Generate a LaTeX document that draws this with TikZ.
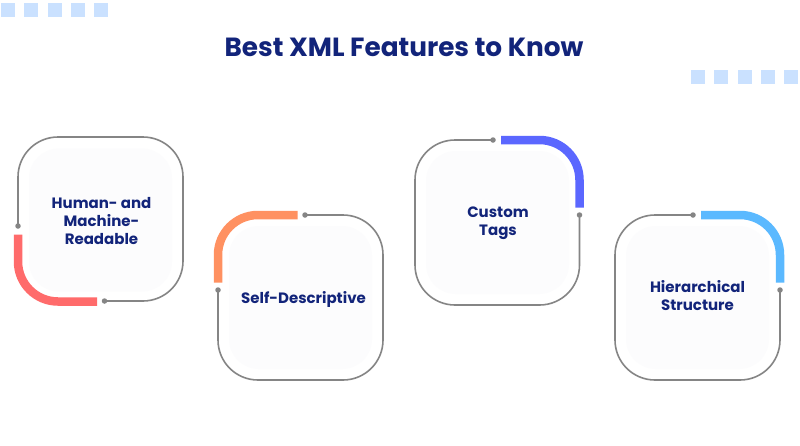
\documentclass[tikz,border=0pt]{standalone}
\usepackage{fontspec}
\setmainfont{Poppins}
\definecolor{navy}{HTML}{12247A}
\definecolor{sq}{HTML}{CAE1FF}
\definecolor{ring}{HTML}{858585}
\definecolor{inner}{HTML}{FCFCFD}
\definecolor{cred}{HTML}{FF6B6B}
\definecolor{corange}{HTML}{FF9161}
\definecolor{cblue}{HTML}{5B67FF}
\definecolor{csky}{HTML}{5BB9FF}
\tikzset{
  x=1pt,y=-1pt,
  square/.style={fill=sq,draw=none,minimum size=14pt,inner sep=0pt,outer sep=0pt},
  panel/.style={fill=inner,draw=none,rounded corners=30pt,minimum size=143pt,inner sep=0pt,outer sep=0pt},
  label/.style={font=\bfseries\fontsize{15}{18}\selectfont,text=navy,align=center,inner sep=0pt},
  dotmark/.style={circle,fill=ring,draw=none,minimum size=5.5pt,inner sep=0pt,outer sep=0pt},
  ringline/.style={draw=ring,line width=1.6pt,rounded corners=40pt},
  accent/.style={line width=8.5pt,rounded corners=40pt,line cap=butt},
}
\begin{document}
\begin{tikzpicture}
\useasboundingbox (0,0) rectangle (800,445);
\fill[white] (0,0) rectangle (800,445);
% decorative squares
\foreach \i/\x in {a/8,b/31,c/55,d/78,e/101}{\node[square] (t\i) at (\x,10) {};}
\foreach \i/\x in {a/698,b/721,c/745,d/768,e/791}{\node[square] (r\i) at (\x,77) {};}
% title
\node[font=\bfseries\fontsize{26.3}{30}\selectfont,text=navy,inner sep=0pt] (title) at (404,47) {Best XML Features to Know};
% panels
\node[panel] (p1) at (100.5,220) {};
\node[panel] (p2) at (300.5,297.5) {};
\node[panel] (p3) at (497.5,222.5) {};
\node[panel] (p4) at (697.5,297.5) {};
% labels
\node[label] (l1) at (101.5,221) {Human- and\\Machine-\\Readable};
\node[label] (l2) at (303.5,299) {Self-Descriptive};
\node[label] (l3) at (498,223.5) {Custom\\Tags};
\node[label] (l4) at (697.5,296) {Hierarchical\\Structure};
% dots
\node[dotmark] (d1a) at (18,226) {};
\node[dotmark] (d1b) at (104.5,301) {};
\node[dotmark] (d2a) at (218,290) {};
\node[dotmark] (d2b) at (305,215) {};
\node[dotmark] (d3a) at (493,140) {};
\node[dotmark] (d3b) at (579.5,215) {};
\node[dotmark] (d4a) at (693,215) {};
\node[dotmark] (d4b) at (780,290) {};
% rings
\draw[ringline] (d1a.center) -- (18,137) -- (183,137) -- (183,301) -- (d1b.center);
\draw[ringline] (d2a.center) -- (218,380) -- (383,380) -- (383,215) -- (d2b.center);
\draw[ringline] (d3a.center) -- (415,140) -- (415,305) -- (579.5,305) -- (d3b.center);
\draw[ringline] (d4a.center) -- (615,215) -- (615,380) -- (780,380) -- (d4b.center);
% accent ends
\coordinate (a1s) at (18,234.5); \coordinate (a1e) at (97,301.5);
\coordinate (a2s) at (218,282.5); \coordinate (a2e) at (297.5,215);
\coordinate (a3s) at (501,140); \coordinate (a3e) at (579.5,207.5);
\coordinate (a4s) at (701,215); \coordinate (a4e) at (780,282.5);
\draw[accent,draw=cred] (a1s) -- (18,301.5) -- (a1e);
\draw[accent,draw=corange] (a2s) -- (218,215) -- (a2e);
\draw[accent,draw=cblue] (a3s) -- (579.5,140) -- (a3e);
\draw[accent,draw=csky] (a4s) -- (780,215) -- (a4e);
\end{tikzpicture}
\end{document}
